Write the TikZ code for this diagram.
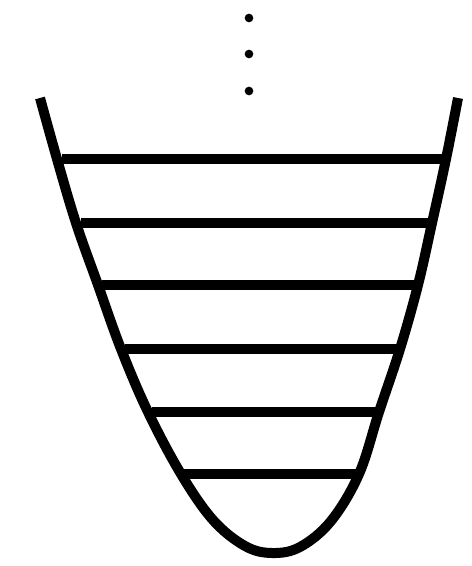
\documentclass[tikz,border=0pt]{standalone}
\usepackage{tikz}

\begin{document}
\begin{tikzpicture}[
          x=0.75pt, y=-0.75pt,
          well/.style={line width=7.5pt, line join=round},
          level/.style={line width=7.8pt},
          dot/.style={circle, fill=black, inner sep=0pt, minimum size=6.5pt}
        ]
          \useasboundingbox (0,0) rectangle (471,566);

          % potential well
          \draw[well] plot[smooth, tension=0.6] coordinates {
            (40,98) (57,159) (76,223) (98,285) (121,349) (148,412) (181,474)
            (213,520) (245,546) (272,553) (300,547) (331,521) (359,474)
            (379,412) (400,349) (418,285) (432,223) (446,159) (458,98)};

          % energy levels
          \coordinate (l1a) at (62,159);  \coordinate (l1b) at (442,159);
          \coordinate (l2a) at (81,223);  \coordinate (l2b) at (430,223);
          \coordinate (l3a) at (102,285); \coordinate (l3b) at (415,285);
          \coordinate (l4a) at (125,349); \coordinate (l4b) at (397,349);
          \coordinate (l5a) at (152,412); \coordinate (l5b) at (376,412);
          \coordinate (l6a) at (183,474); \coordinate (l6b) at (357,474);
          \draw[level] (l1a) -- (l1b);
          \draw[level] (l2a) -- (l2b);
          \draw[level] (l3a) -- (l3b);
          \draw[level] (l4a) -- (l4b);
          \draw[level] (l5a) -- (l5b);
          \draw[level] (l6a) -- (l6b);

          % dots above
          \node[dot] (d1) at (249,18) {};
          \node[dot] (d2) at (249,54) {};
          \node[dot] (d3) at (249,91) {};
        \end{tikzpicture}
\end{document}
